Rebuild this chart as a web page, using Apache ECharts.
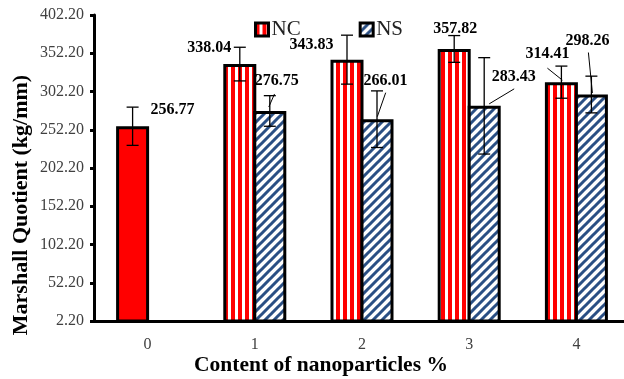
<!DOCTYPE html>
<html>
<head>
<meta charset="utf-8">
<script src="https://cdn.jsdelivr.net/npm/echarts@6/dist/echarts.min.js"></script>
<style>
html,body{margin:0;padding:0;background:#fff;overflow:hidden;}
#chart{width:634px;height:379px;}
</style>
</head>
<body>
<div id="chart"></div>
<script>
// ---- data ----
const categories = ['0', '1', '2', '3', '4'];
const ncValues = [256.77, 338.04, 343.83, 357.82, 314.41];
const nsValues = [null, 276.75, 266.01, 283.43, 298.26];
const ncErrors = [25, 22, 32, 17.5, 21];
const nsErrors = [null, 20, 37, 63, 24];
const yTicks = ['2.20','52.20','102.20','152.20','202.20','252.20','302.20','352.20','402.20'];

// ---- layout (label placement relative to bar top) ----
const ncLabelOffset = [[40,-16],[-30.5,-16],[-35.5,-15],[1,-20],[-14,-28]];
const nsLabelOffset = [null,[7,-30],[8.5,-38],[29.5,-29],[-4,-54]];
const ncLeader = [null,null,null,null,[[-14,-14],[1,-2]]];
const nsLeader = [null,[[4.7,-17],[-1,-4]],[[8.7,-26.5],[0.3,-2.5]],[[30,-17],[5,-2]],[[-3,-42],[1,-1.5]]];

function makeNC(){
  const c = document.createElement('canvas');
  c.width = 7; c.height = 7;
  const g = c.getContext('2d');
  g.fillStyle = '#ffffff'; g.fillRect(0,0,7,7);
  g.fillStyle = '#ff0000'; g.fillRect(0,0,4,7);
  return c;
}
function makeNS(){
  const s = 9;
  const c = document.createElement('canvas');
  c.width = s; c.height = s;
  const g = c.getContext('2d');
  g.fillStyle = '#ffffff'; g.fillRect(0,0,s,s);
  g.strokeStyle = '#2a4f84'; g.lineWidth = 3;
  g.beginPath();
  g.moveTo(-2,2); g.lineTo(2,-2);
  g.moveTo(0,s); g.lineTo(s,0);
  g.moveTo(s-2,s+2); g.lineTo(s+2,s-2);
  g.stroke();
  return c;
}
const ncPattern = {image: makeNC(), repeat: 'repeat'};
const nsPattern = {image: makeNS(), repeat: 'repeat'};

const labelFont = 'bold 16px "Liberation Serif"';

function errRender(values, errors, sideOffset, labelOffs, leaders){
  return function(params, api){
    const i = api.value(0);
    const v = values[i], e = errors[i];
    if (v == null) return null;
    const top = api.coord([i, v]);
    const hi = api.coord([i, v + e]);
    const lo = api.coord([i, v - e]);
    const x = top[0] + sideOffset;
    const ls = {stroke:'#000', lineWidth:1.3};
    const children = [
      {type:'line', shape:{x1:x,y1:hi[1],x2:x,y2:lo[1]}, style:ls},
      {type:'line', shape:{x1:x-6,y1:hi[1],x2:x+6,y2:hi[1]}, style:ls},
      {type:'line', shape:{x1:x-6,y1:lo[1],x2:x+6,y2:lo[1]}, style:ls}
    ];
    const lo2 = labelOffs[i];
    children.push({type:'text', style:{text:v.toFixed(2), x:x+lo2[0], y:top[1]+lo2[1],
      align:'center', verticalAlign:'middle', font:labelFont, fill:'#000'}});
    const ld = leaders[i];
    if (ld) {
      children.push({type:'line', shape:{x1:x+ld[0][0],y1:top[1]+ld[0][1],x2:x+ld[1][0],y2:top[1]+ld[1][1]},
        style:{stroke:'#000', lineWidth:1}});
    }
    return {type:'group', children};
  };
}

const chart = echarts.init(document.getElementById('chart'), null, {renderer:'canvas'});
const ncData = ncValues.map((v,i)=> i===0 ? {value:v, itemStyle:{color:'#ff0000'}} : v);

chart.setOption({
  animation:false,
  backgroundColor:'#ffffff',
  grid:{left:94, top:15, width:536, height:306},
  legend:{
    left:254, top:19, padding:0, itemWidth:13, itemHeight:13, itemGap:58, icon:'rect',
    itemStyle:{borderWidth:3, borderColor:'#000'},
    textStyle:{fontFamily:'Liberation Serif', fontSize:21, color:'#222', padding:[0,0,0,-2]},
    data:['NC','NS']
  },
  xAxis:{
    type:'category', data:categories,
    axisLine:{lineStyle:{color:'#000', width:3}},
    axisTick:{show:false},
    axisLabel:{fontFamily:'Liberation Serif', fontSize:16, color:'#404040', margin:16}
  },
  yAxis:{
    type:'value', min:2.2, max:402.2, interval:50,
    axisLine:{show:true, lineStyle:{color:'#000', width:3}},
    axisTick:{show:true, length:4, lineStyle:{color:'#000', width:3}},
    splitLine:{show:false},
    axisLabel:{fontFamily:'Liberation Serif', fontSize:16, color:'#404040', margin:10,
      formatter:(val)=>{ const k = Math.round((val-2.2)/50); return yTicks[k] !== undefined ? yTicks[k] : val.toFixed(2); }}
  },
  graphic:[
    {type:'text', x:21, y:205, rotation:Math.PI/2,
      style:{text:'Marshall Quotient (kg/mm)', font:'bold 22px "Liberation Serif"', fill:'#000', align:'center', verticalAlign:'middle'}},
    {type:'text', x:321, y:365,
      style:{text:'Content of nanoparticles %', font:'bold 21.5px "Liberation Serif"', fill:'#000', align:'center', verticalAlign:'middle'}}
  ],
  series:[
    {name:'NC', type:'bar', data:ncData, barWidth:33, barGap:'-9.09%',
      itemStyle:{color:ncPattern, borderColor:'#000', borderWidth:3}},
    {name:'NS', type:'bar', data:nsValues, barWidth:33, barGap:'-9.09%',
      itemStyle:{color:nsPattern, borderColor:'#000', borderWidth:3}},
    {name:'NCerr', type:'custom', z:5, data:categories.map((c,i)=>[i, ncValues[i]]),
      renderItem: errRender(ncValues, ncErrors, -15, ncLabelOffset, ncLeader)},
    {name:'NSerr', type:'custom', z:5, data:categories.map((c,i)=>[i, nsValues[i] == null ? 0 : nsValues[i]]),
      renderItem: errRender(nsValues, nsErrors, 15, nsLabelOffset, nsLeader)}
  ]
});
</script>
</body>
</html>
